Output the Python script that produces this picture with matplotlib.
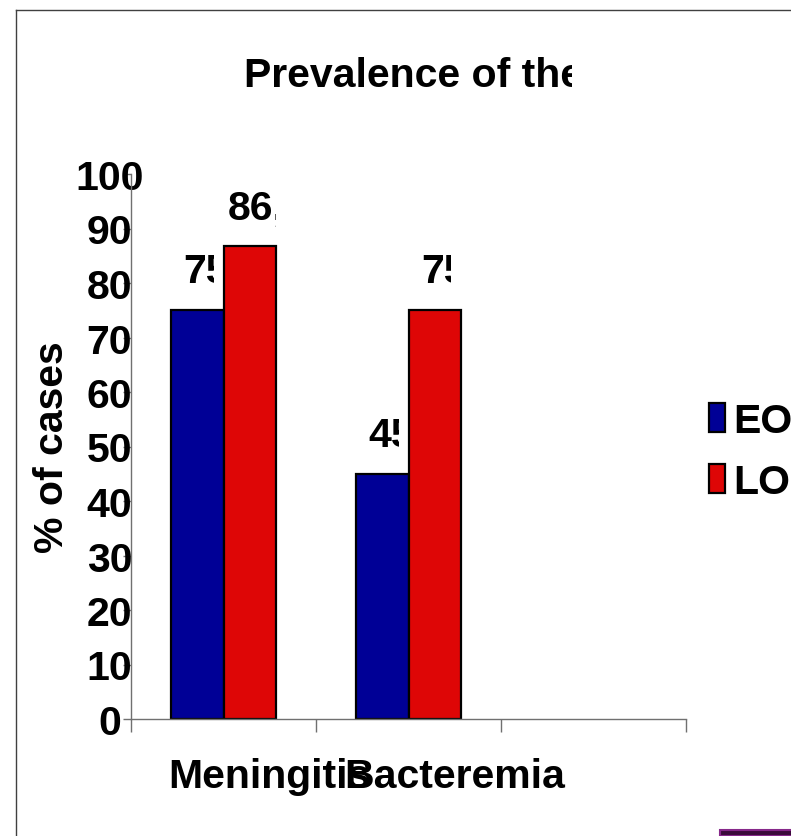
import numpy as np
import matplotlib.pyplot as plt
from matplotlib.transforms import Bbox, TransformedBbox
from matplotlib.patches import Rectangle
from matplotlib.lines import Line2D

plt.rcParams['font.family'] = ['Liberation Sans', 'DejaVu Sans']
plt.rcParams['font.weight'] = 'bold'

# data
categories = ['Meningitis', 'Bacteremia', '']
eo_values = [75, 45]
lo_values = [86.7, 75]
series_names = ['EO', 'LO']
title_text = 'Prevalence of the'
ylabel_text = '% of cases'
yticks = list(range(0, 101, 10))

W, H = 791, 837
fig = plt.figure(figsize=(W / 100, H / 100), dpi=100)
fs = 29.5

# outer chart border (top and left only visible)
fig.add_artist(Line2D([16 / W, 1], [1 - 11 / H, 1 - 11 / H], color='#404040', lw=1))
fig.add_artist(Line2D([16 / W, 16 / W], [0, 1 - 11 / H], color='#404040', lw=1))
# purple strip bottom right
fig.add_artist(Rectangle((720 / W, 0), 1, 6 / H, transform=fig.transFigure,
                         facecolor='#3a0a3a', edgecolor='#86288a', lw=1.5))

ax = fig.add_axes([131 / W, 1 - 720 / H, (686 - 131) / W, (720 - 175) / H])

n = len(categories)
x = np.arange(n) + 0.5
bw = 0.286
blue = '#000096'
red = '#DE0606'
b1 = ax.bar(x[:2] - bw / 2, eo_values, bw, color=blue, edgecolor='black', lw=1.6, label=series_names[0])
b2 = ax.bar(x[:2] + bw / 2, lo_values, bw, color=red, edgecolor='black', lw=1.6, label=series_names[1])

ax.set_xlim(0, n)
ax.set_ylim(0, 100)
for s in ['top', 'right']:
    ax.spines[s].set_visible(False)
for s in ['left', 'bottom']:
    ax.spines[s].set_color('#707070')
    ax.spines[s].set_linewidth(1)

ax.set_xticks(np.arange(n + 1))
ax.set_xticklabels([])
ax.tick_params(axis='x', length=9, width=1, color='#707070', direction='out')
ax.set_yticks(yticks)
ax.set_yticklabels([str(t) for t in yticks], fontsize=fs, fontweight='bold', ha='center')
ax.tick_params(axis='y', length=6, width=1, color='#707070', direction='out', pad=9.5)

# category labels (shifted right like the original)
for xi, c in zip(x, categories):
    ax.annotate(c, (xi, 0), xycoords=('data', 'axes fraction'), xytext=(33, -49),
                textcoords='offset points', ha='center', va='baseline', fontsize=fs, fontweight='bold')

ax.set_ylabel(ylabel_text, fontsize=fs, fontweight='bold', labelpad=3)

# value labels, clipped like the original text boxes
def add_label(bar, val, start, stop):
    x0 = bar.get_x()
    txt = ('%g' % val).replace('.', ',')
    t = ax.annotate(txt, (x0 + start, val), xytext=(0, 20), textcoords='offset points',
                    ha='left', va='baseline', fontsize=fs, fontweight='bold')
    t.set_clip_box(TransformedBbox(Bbox([[x0, 0], [x0 + stop, 130]]), ax.transData))
    t.set_clip_on(True)

for bar, v in zip(b1, eo_values):
    add_label(bar, v, 0.07, 0.232)
for bar, v in zip(b2, lo_values):
    if v > 80:
        add_label(bar, v, 0.022, 0.286)
    else:
        add_label(bar, v, 0.07, 0.232)

# title, clipped on the right
tt = fig.text(244 / W, 1 - 87 / H, title_text, fontsize=fs, fontweight='bold', ha='left', va='baseline')
tt.set_clip_box(TransformedBbox(Bbox([[0, 0], [572 / W, 1]]), fig.transFigure))
tt.set_clip_on(True)

fig.legend(handles=[b1, b2], labels=series_names, loc='upper left',
           bbox_to_anchor=(709 / W, 1 - 403 / H), frameon=False, fontsize=fs,
           handlelength=0.4, handleheight=0.7, handletextpad=0.2, labelspacing=0.55,
           borderpad=0, borderaxespad=0)

fig.savefig('out.png', dpi=100)
